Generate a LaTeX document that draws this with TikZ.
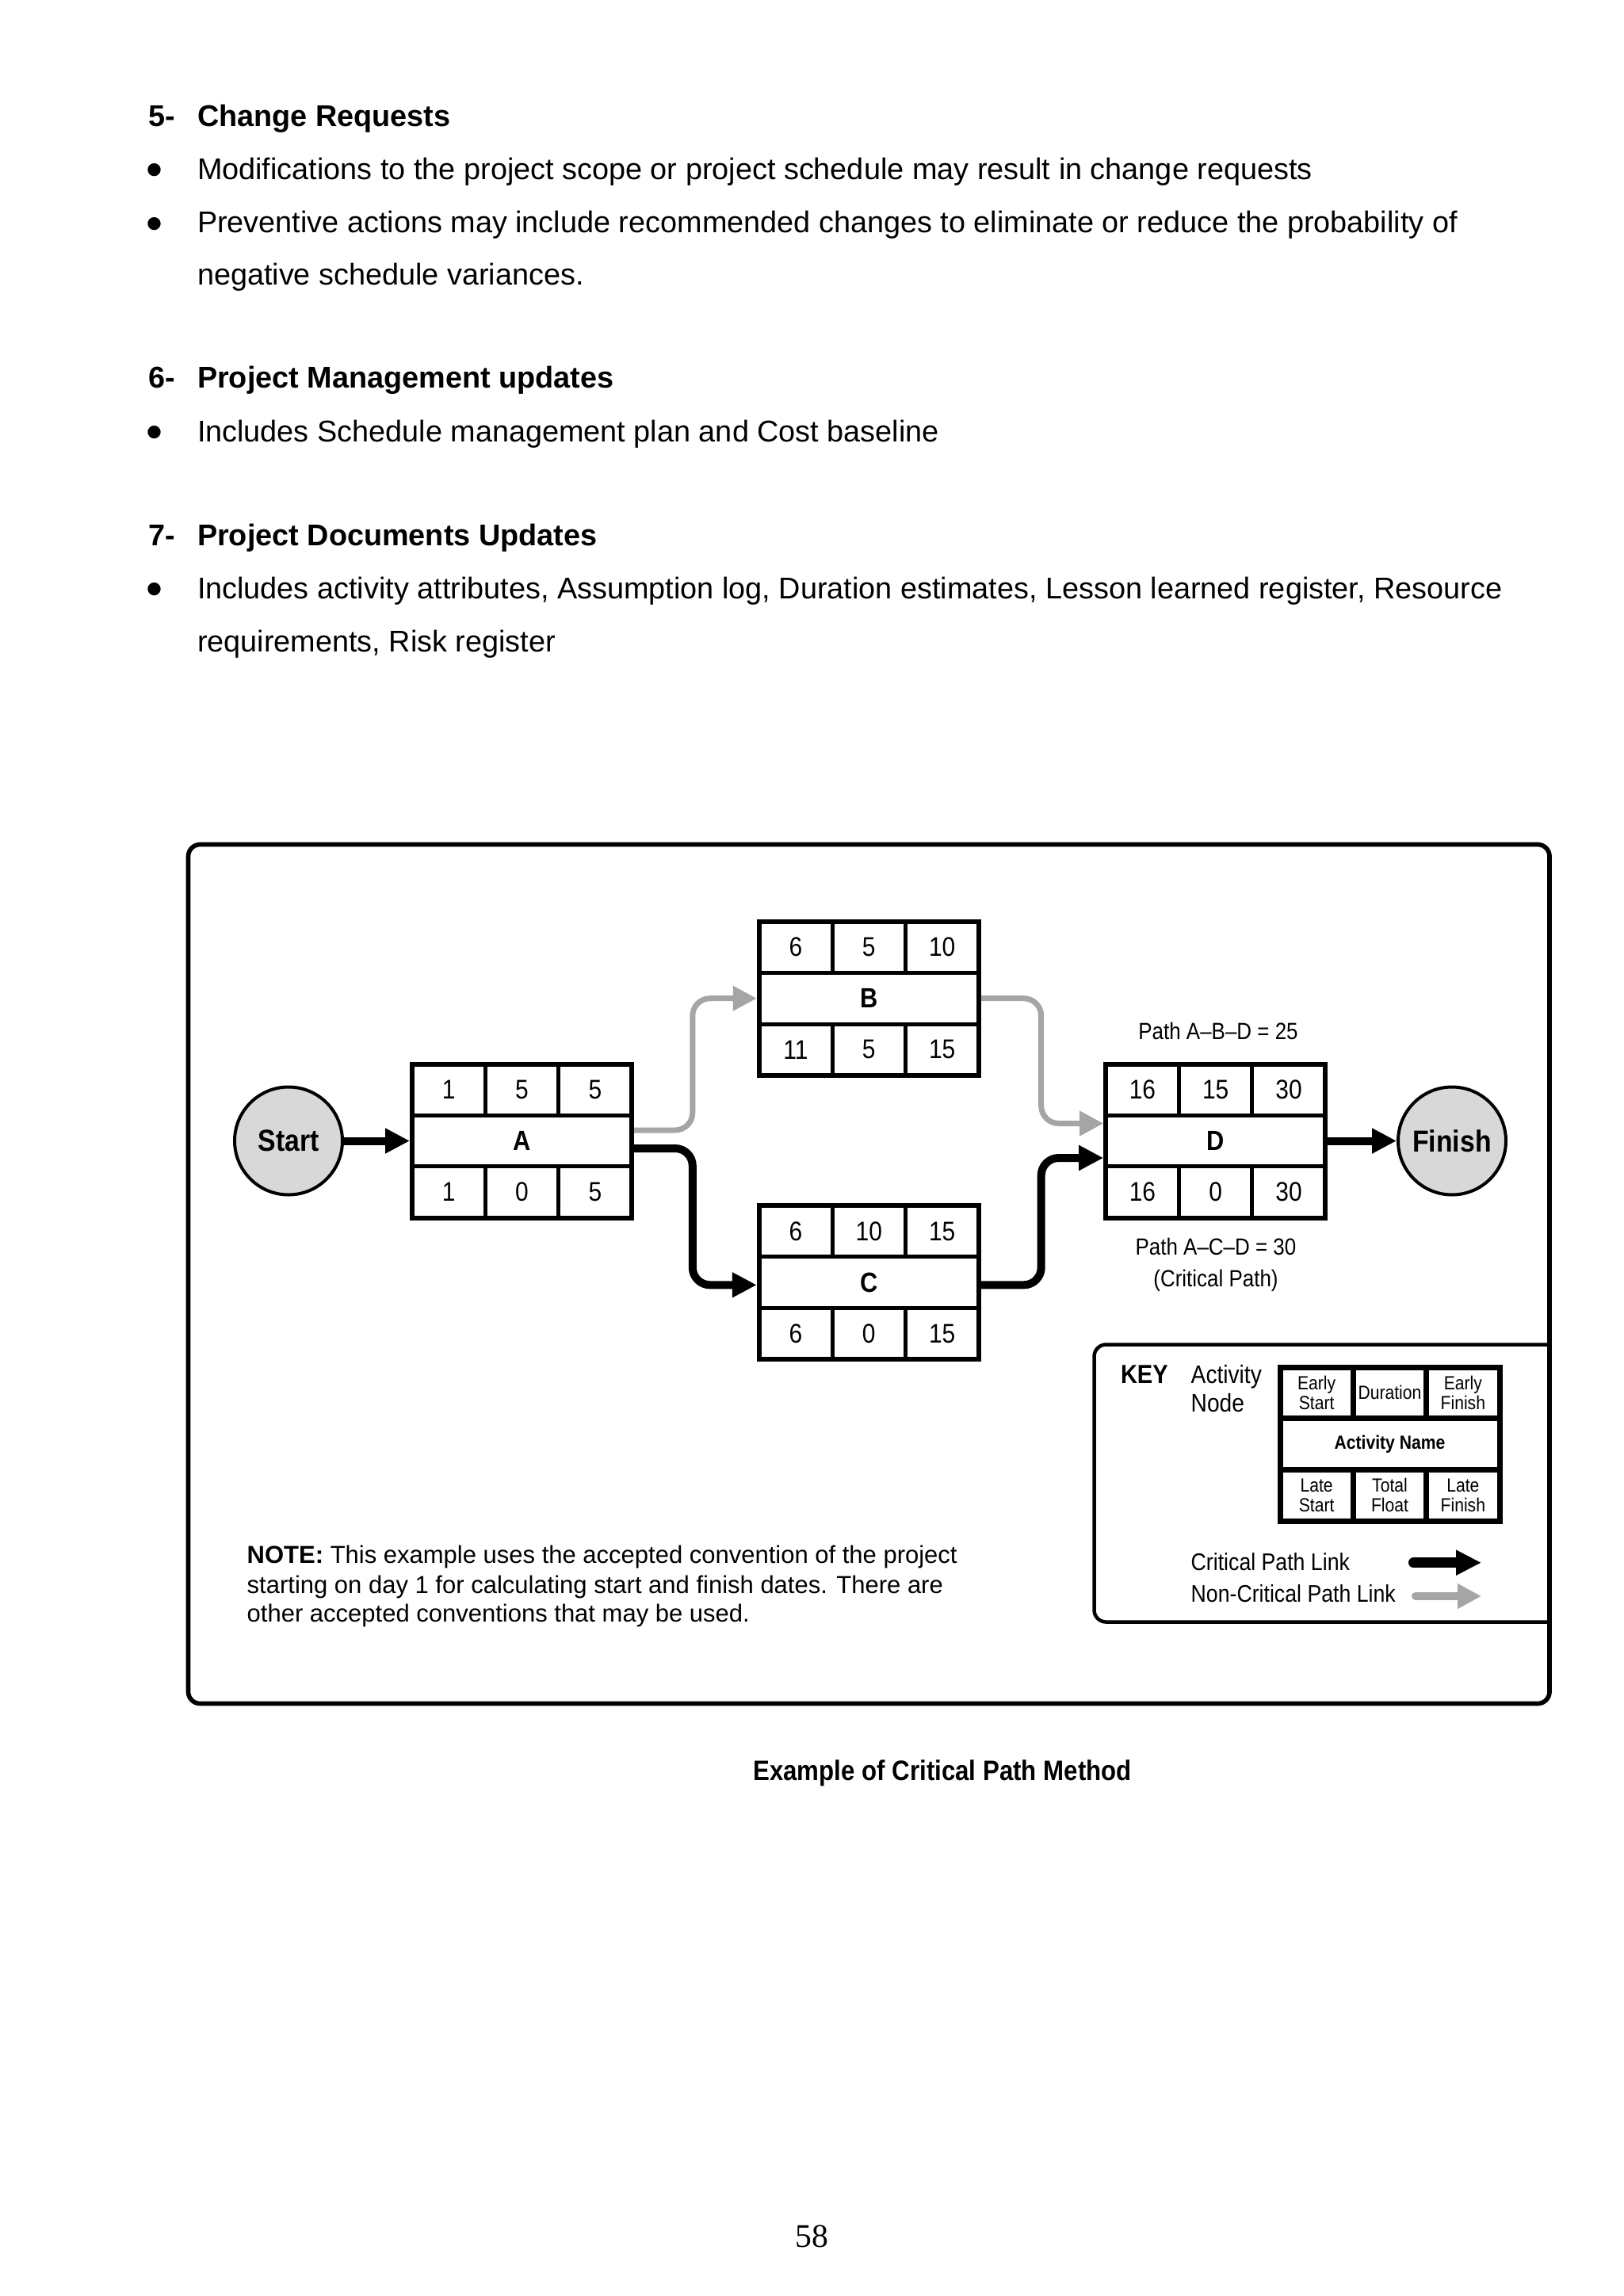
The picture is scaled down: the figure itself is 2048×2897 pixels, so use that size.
\documentclass[tikz,border=0pt]{standalone}
\usepackage{fontspec}
\setmainfont{Liberation Sans}
\newfontfamily\dgfont[FakeStretch=0.88]{Liberation Sans}
\newfontfamily\pgfont{Liberation Serif}
\usetikzlibrary{arrows.meta,calc}
\definecolor{lgray}{RGB}{165,165,165}
\definecolor{cgray}{RGB}{216,216,216}
\newcommand\setsize[2]{\fontsize{#1}{#2}\selectfont}
\tikzset{
  txt/.style={inner sep=0pt, outer sep=0pt},
  body/.style={txt, anchor=base west, font=\setsize{11.35pt}{13pt}},
  bul/.style={txt, anchor=base west, font=\setsize{18pt}{18pt}},
  actbox/.style={draw, line width=1.8pt, minimum width=83.1pt, minimum height=58.2pt, inner sep=0pt, outer sep=0.9pt, fill=white},
  innerline/.style={line width=1.5pt},
  num/.style={txt, font=\dgfont\setsize{10.2pt}{12pt}},
  actname/.style={txt, font=\dgfont\bfseries\setsize{10.5pt}{12pt}},
  endpt/.style={circle, draw=black, line width=1.2pt, fill=cgray, minimum size=40.8pt, inner sep=0pt, outer sep=0.6pt, font=\dgfont\bfseries\setsize{11.5pt}{13pt}},
  crit/.style={line width=3pt, black, rounded corners=6.6pt, -{Triangle[length=9.3pt,width=9pt]}},
  noncrit/.style={line width=2.1pt, lgray, rounded corners=6.6pt, -{Triangle[length=9pt,width=9pt]}},
  pathlbl/.style={txt, anchor=base, font=\dgfont\setsize{8.85pt}{10pt}},
  note/.style={txt, anchor=base west, font=\setsize{9.3pt}{11pt}},
  keytxt/.style={txt, anchor=base west, font=\dgfont\setsize{9.6pt}{10.5pt}},
  keycell/.style={txt, align=center, font=\dgfont\setsize{7.2pt}{7.5pt}},
}
% activity node: name, (position), ES, DUR, EF, label, LS, TF, LF
\newcommand\actnode[9]{%
  \node[actbox] (#1) at #2 {};
  \draw[innerline] ($(#1)+(-138.5,-32.33)$) -- ($(#1)+(138.5,-32.33)$);
  \draw[innerline] ($(#1)+(-138.5,32.33)$) -- ($(#1)+(138.5,32.33)$);
  \draw[innerline] ($(#1)+(-46.17,-97)$) -- ($(#1)+(-46.17,-32.33)$);
  \draw[innerline] ($(#1)+(46.17,-97)$) -- ($(#1)+(46.17,-32.33)$);
  \draw[innerline] ($(#1)+(-46.17,32.33)$) -- ($(#1)+(-46.17,97)$);
  \draw[innerline] ($(#1)+(46.17,32.33)$) -- ($(#1)+(46.17,97)$);
  \node[num] (#1-es) at ($(#1)+(-92.33,-64.67)$) {#3};
  \node[num] (#1-du) at ($(#1)+(0,-64.67)$) {#4};
  \node[num] (#1-ef) at ($(#1)+(92.33,-64.67)$) {#5};
  \node[actname] (#1-nm) at (#1) {#6};
  \node[num] (#1-ls) at ($(#1)+(-92.33,64.67)$) {#7};
  \node[num] (#1-tf) at ($(#1)+(0,64.67)$) {#8};
  \node[num] (#1-lf) at ($(#1)+(92.33,64.67)$) {#9};
}
\begin{document}
\begin{tikzpicture}[x=0.3pt, y=-0.3pt]
\useasboundingbox (0,0) rectangle (2048,2897);
\fill[white] (0,0) rectangle (2048,2897);

% ---------- body text ----------
\node[body] (h5num) at (187,159.3) {\bfseries 5-};
\node[body] (h5) at (249,159.3) {\bfseries Change Requests};
\node[bul] (b51) at (184,235) {•};
\node[body] (t51) at (249,226.7) {Modifications to the project scope or project schedule may result in change requests};
\node[bul] (b52) at (184,302.3) {•};
\node[body] (t52) at (249,294) {Preventive actions may include recommended changes to eliminate or reduce the probability of};
\node[body] (t52b) at (249,360) {negative schedule variances.};
\node[body] (h6num) at (187,489.3) {\bfseries 6-};
\node[body] (h6) at (249,489.3) {\bfseries Project Management updates};
\node[bul] (b61) at (184,565.3) {•};
\node[body] (t61) at (249,557) {Includes Schedule management plan and Cost baseline};
\node[body] (h7num) at (187,688) {\bfseries 7-};
\node[body] (h7) at (249,688) {\bfseries Project Documents Updates};
\node[bul] (b71) at (184,763.8) {•};
\node[body] (t71) at (249,755.5) {Includes activity attributes, Assumption log, Duration estimates, Lesson learned register, Resource};
\node[body] (t71b) at (249,822) {requirements, Risk register};

% ---------- frame ----------
\draw[line width=1.7pt, rounded corners=4.5pt] (237.5,1065.5) rectangle (1955,2149.5);

% ---------- network ----------
\node[endpt] (S) at (364,1439.5) {Start};
\node[endpt] (F) at (1832,1439.5) {Finish};
\actnode{A}{(658.5,1439.5)}{1}{5}{5}{A}{1}{0}{5}
\actnode{B}{(1096.3,1259.7)}{6}{5}{10}{B}{11}{5}{15}
\actnode{C}{(1096.3,1618.3)}{6}{10}{15}{C}{6}{0}{15}
\actnode{D}{(1533.7,1439.5)}{16}{15}{30}{D}{16}{0}{30}

\draw[crit] (S) -- (A);
\draw[crit] (D) -- (F);
\draw[noncrit] ($(A.east)+(0,-13.5)$) -| ($(B.west)+(-81,0)$) -- (B.west);
\draw[crit] ($(A.east)+(0,9.5)$) -| ($(C.west)+(-81,3)$) -- ($(C.west)+(0,3)$);
\draw[noncrit] (B.east) -| ($(D.west)+(-78.5,-22)$) -- ($(D.west)+(0,-22)$);
\draw[crit] ($(C.east)+(0,3)$) -| ($(D.west)+(-78.5,21.5)$) -- ($(D.west)+(0,21.5)$);

\node[pathlbl] (pabd) at (1537,1311.7) {Path A–B–D = 25};
\node[pathlbl] (pacd) at (1534,1583.3) {Path A–C–D = 30};
\node[pathlbl] (pcp) at (1534,1623.3) {(Critical Path)};

% ---------- note ----------
\node[note] (n1) at (311.7,1972.7) {\textbf{NOTE:} This example uses the accepted convention of the project};
\node[note] (n2) at (311.7,2010) {starting on day 1 for calculating start and finish dates. There are};
\node[note] (n3) at (311.7,2046.7) {other accepted conventions that may be used.};

% ---------- key ----------
\draw[line width=1.35pt, rounded corners=4.5pt] (1955,1696.5) -- (1380.5,1696.5) -- (1380.5,2046.5) -- (1955,2046.5);
\node[keytxt, font=\dgfont\bfseries\setsize{9.9pt}{11pt}] (key) at (1414,1745.5) {KEY};
\node[keytxt] (kact) at (1502.7,1745.5) {Activity};
\node[keytxt] (knode) at (1502.7,1781) {Node};
\node[actbox, line width=2.1pt, outer sep=1.05pt] (K) at (1753.5,1822) {};
\draw[line width=2.1pt] ($(K)+(-138.5,-32.33)$) -- ($(K)+(138.5,-32.33)$);
\draw[line width=2.1pt] ($(K)+(-138.5,32.33)$) -- ($(K)+(138.5,32.33)$);
\draw[line width=2.1pt] ($(K)+(-46.17,-97)$) -- ($(K)+(-46.17,-32.33)$);
\draw[line width=2.1pt] ($(K)+(46.17,-97)$) -- ($(K)+(46.17,-32.33)$);
\draw[line width=2.1pt] ($(K)+(-46.17,32.33)$) -- ($(K)+(-46.17,97)$);
\draw[line width=2.1pt] ($(K)+(46.17,32.33)$) -- ($(K)+(46.17,97)$);
\node[keycell] (K-es) at ($(K)+(-92.33,-64.67)$) {Early\\Start};
\node[keycell] (K-du) at ($(K)+(0,-64.67)$) {Duration};
\node[keycell] (K-ef) at ($(K)+(92.33,-64.67)$) {Early\\Finish};
\node[keycell, font=\dgfont\bfseries\setsize{7.2pt}{7.5pt}] (K-nm) at (K) {Activity Name};
\node[keycell] (K-ls) at ($(K)+(-92.33,64.67)$) {Late\\Start};
\node[keycell] (K-tf) at ($(K)+(0,64.67)$) {Total\\Float};
\node[keycell] (K-lf) at ($(K)+(92.33,64.67)$) {Late\\Finish};

\node[keytxt, font=\dgfont\setsize{9.1pt}{10pt}] (kcrit) at (1502.7,1981.7) {Critical Path Link};
\node[keytxt, font=\dgfont\setsize{9.1pt}{10pt}] (knon) at (1502.7,2021.7) {Non-Critical Path Link};
\coordinate (kc1) at (1783.5,1971.7);
\coordinate (kc2) at (1869,1971.7);
\coordinate (kn1) at (1786,2014);
\coordinate (kn2) at (1869,2014);
\draw[line width=3.9pt, line cap=round, -{Triangle[length=9.6pt,width=9pt]}] (kc1) -- (kc2);
\draw[line width=3pt, lgray, line cap=round, -{Triangle[length=9pt,width=9pt]}] (kn1) -- (kn2);

% ---------- caption & page number ----------
\node[txt, anchor=base, font=\dgfont\bfseries\setsize{10.65pt}{12pt}] (cap) at (1189,2246) {Example of Critical Path Method};
\node[txt, anchor=base, font=\pgfont\setsize{12.5pt}{14pt}] (pg) at (1024,2835) {58};
\end{tikzpicture}
\end{document}
